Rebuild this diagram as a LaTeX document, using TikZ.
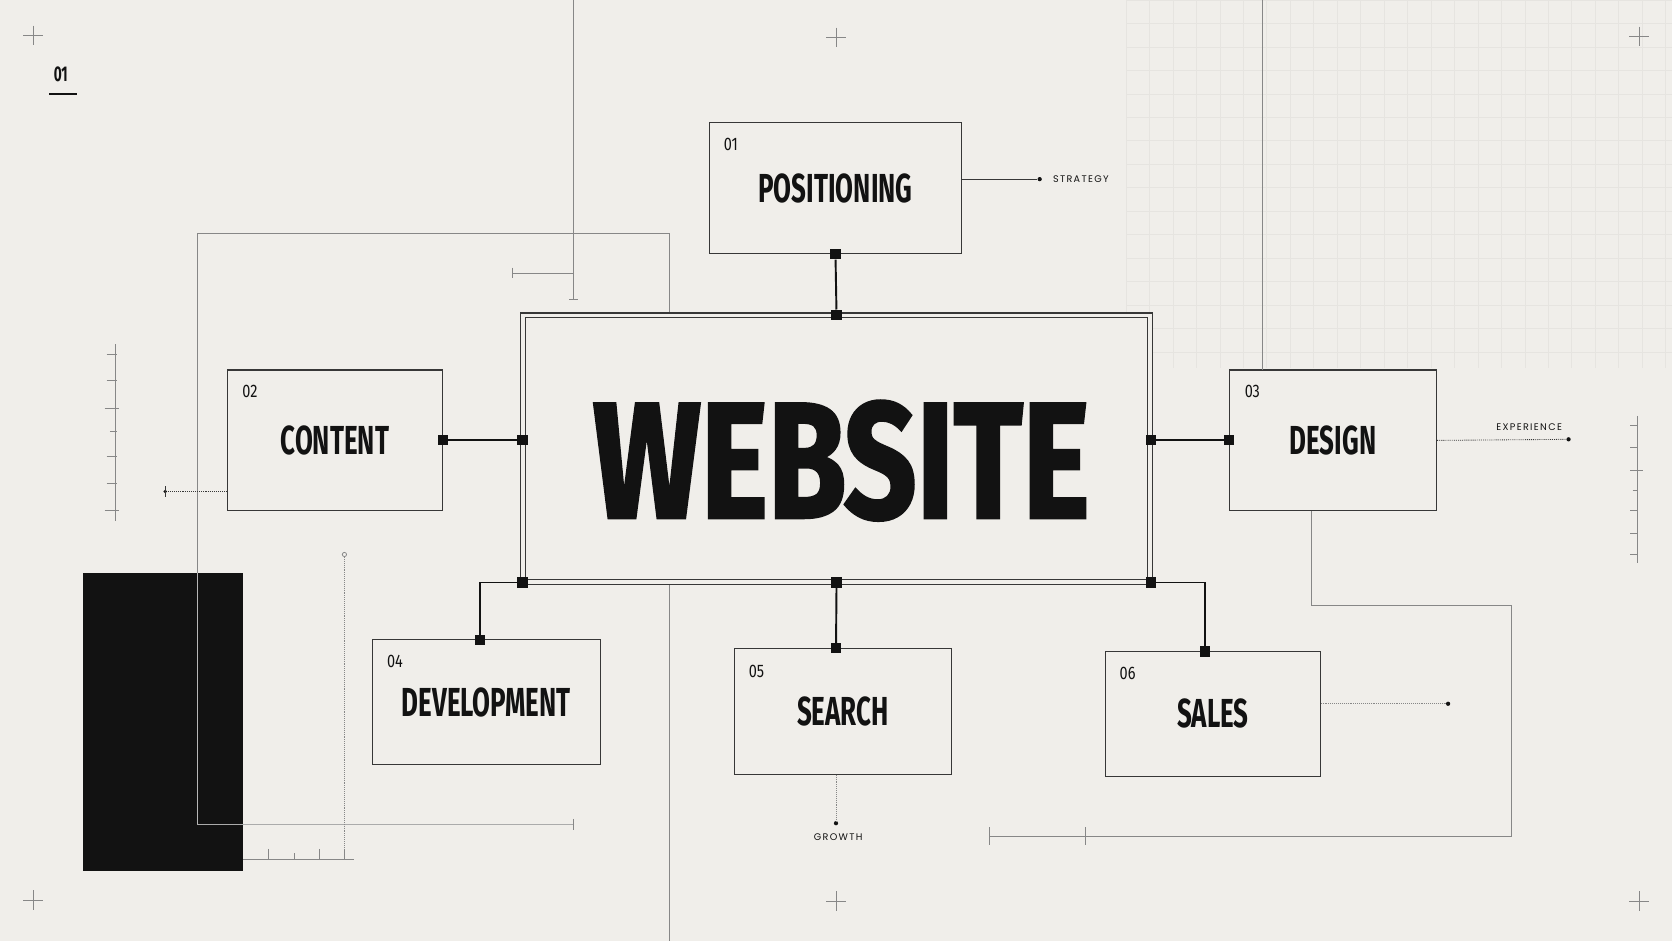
\documentclass[tikz,border=0pt]{standalone}
\usepackage{fontspec}
\setmainfont{Fira Sans}
\newfontfamily\TitleFont[FakeStretch=0.64]{Fira Sans}
\newfontfamily\HeroFont[FakeStretch=0.77,FakeBold=1.6]{Fira Sans}
\newfontfamily\NumFont[FakeStretch=0.8]{Fira Sans}
\newfontfamily\TagFont[LetterSpace=14]{Poppins}
\definecolor{paper}{RGB}{240,238,234}
\definecolor{ink}{RGB}{18,18,18}
\definecolor{edge}{RGB}{55,55,55}
\definecolor{rule}{RGB}{135,135,135}
\definecolor{gridc}{RGB}{230,228,224}
\newcommand{\BoxTitle}[1]{{\TitleFont\bfseries\fontsize{38}{38}\selectfont #1}}
\newcommand{\BoxNum}[1]{{\NumFont\fontsize{17}{17}\selectfont #1}}
\newcommand{\Tag}[1]{{\TagFont\fontsize{9}{9}\selectfont #1}}

\begin{document}
\begin{tikzpicture}[x=1pt,y=-1pt,
  box/.style={draw=edge,line width=1.1pt,fill=paper,inner sep=0pt,text=ink},
  joint/.style={fill=ink,minimum size=9.5pt,inner sep=0pt},
  link/.style={ink,line width=1.8pt},
  guide/.style={rule,line width=0.8pt},
  lead/.style={edge,line width=0.8pt,densely dotted},
  knob/.style={circle,fill=ink,minimum size=4pt,inner sep=0pt},
  crossmark/.style={rule,line width=0.8pt}]
\useasboundingbox (0,0) rectangle (1568,882);
\fill[paper] (0,0) rectangle (1568,882);
\begin{scope}[y=1pt]
\draw[gridc,line width=0.6pt,step=22] (1056,-345) grid (1568,0);
\end{scope}

\draw[crossmark] (22,33) -- (40,33) (31,24) -- (31,42);
\draw[crossmark] (775,35) -- (793,35) (784,26) -- (784,44);
\draw[crossmark] (1528,34) -- (1546,34) (1537,25) -- (1537,43);
\draw[crossmark] (22,844) -- (40,844) (31,835) -- (31,853);
\draw[crossmark] (775,845) -- (793,845) (784,836) -- (784,854);
\draw[crossmark] (1528,845) -- (1546,845) (1537,836) -- (1537,854);

\node[text=ink] (page) at (57,70) {\TitleFont\bfseries\fontsize{20}{20}\selectfont 01};
\draw[ink,line width=1.4pt] (46,88) -- (72,88);

\fill[ink] (78,537) rectangle (228,817);

\coordinate (g-top) at (538,0);
\coordinate (g-end) at (538,281);
\coordinate (g-arm) at (481,256);
\draw[guide] (g-top) -- (g-end);
\draw[guide] (g-arm) -- (g-arm -| g-end);
\draw[guide] (481,251) -- (481,261) (534,281) -- (542,281);

\coordinate (f-low) at (185,773);
\coordinate (f-nw) at (185,219);
\coordinate (f-ne) at (628,219);
\coordinate (f-foot) at (628,882);
\coordinate (f-tip) at (538,773);
\draw[guide] (f-low) -- (f-nw) -- (f-ne) -- (f-foot);
\draw[guide,rule!70!white] (f-low) -- (f-tip);
\draw[guide,rule!60!white] (185,537) -- (185,773);
\draw[guide] (538,768) -- (538,778);

\draw[guide] (108,323) -- (108,489);
\draw[guide] (100,332) -- (110,332) (100,357) -- (110,357) (98,383) -- (112,383) (103,405) -- (110,405) (100,428) -- (110,428) (100,453) -- (110,453) (98,479) -- (112,479);
\draw[guide] (1536,390) -- (1536,528);
\draw[guide] (1529,399) -- (1536,399) (1529,420) -- (1536,420) (1529,441) -- (1541,441) (1531,460) -- (1536,460) (1529,479) -- (1536,479) (1529,500) -- (1536,500) (1529,520) -- (1536,520);
\draw[guide] (228,806) -- (332,806);
\draw[guide] (252,796) -- (252,806) (276,800) -- (276,806) (300,796) -- (300,806) (323,796) -- (323,806);
\node[circle,draw=rule,line width=0.7pt,minimum size=4pt,inner sep=0pt] (v-top) at (323,520) {};
\draw[lead,rule] (v-top) -- (323,806);

\node[box,minimum width=588pt,minimum height=250pt,double=paper,double distance=3.4pt] (web) at (784.5,420.75) {};
\node[text=ink] (web-title) at (789,432) {\HeroFont\bfseries\fontsize{155}{155}\selectfont WEBSITE};

\node[box,minimum width=237pt,minimum height=123pt] (pos) at (783.5,176.5) {\BoxTitle{POSITIONING}};
\node[box,minimum width=202pt,minimum height=132pt] (con) at (314,413) {\BoxTitle{CONTENT}};
\node[box,minimum width=194pt,minimum height=132pt] (des) at (1250,413) {\BoxTitle{DESIGN}};
\node[box,minimum width=214pt,minimum height=117pt] (dev) at (456,658.5) {\BoxTitle{DEVELOPMENT}};
\node[box,minimum width=203pt,minimum height=118pt] (sea) at (790.5,667) {\BoxTitle{SEARCH}};
\node[box,minimum width=201pt,minimum height=117pt] (sal) at (1137.5,669.5) {\BoxTitle{SALES}};

\node[text=ink] (pos-n) at ([shift={(21,21)}]pos.north west) {\BoxNum{01}};
\node[text=ink] (con-n) at ([shift={(22,21)}]con.north west) {\BoxNum{02}};
\node[text=ink] (des-n) at ([shift={(22,21)}]des.north west) {\BoxNum{03}};
\node[text=ink] (dev-n) at ([shift={(22,21)}]dev.north west) {\BoxNum{04}};
\node[text=ink] (sea-n) at ([shift={(21,22)}]sea.north west) {\BoxNum{05}};
\node[text=ink] (sal-n) at ([shift={(21,21)}]sal.north west) {\BoxNum{06}};

\draw[guide] (1184,0) -- (1184,347);
\coordinate (d-drop) at (1230,479);
\coordinate (d-bend) at (1417,568);
\coordinate (d-foot) at (1417,784);
\coordinate (d-end) at (928,784);
\draw[guide] (d-drop) |- (d-bend) -- (d-foot) -- (d-end);
\draw[guide] (928,776) -- (928,792) (1018,776) -- (1018,792);

\node[joint] (pos-p) at (pos.south) {};
\node[joint] (web-n) at (web.north) {};
\node[joint] (con-p) at (con.east) {};
\node[joint] (web-w) at (web.west |- con.east) {};
\node[joint] (des-p) at (des.west) {};
\node[joint] (web-e) at (web.east |- des.west) {};
\node[joint] (dev-p) at (450,600) {};
\node[joint] (web-sw) at (web.south west) {};
\node[joint] (sea-p) at (784,608) {};
\node[joint] (web-s) at (web.south) {};
\node[joint] (sal-p) at (1130,611) {};
\node[joint] (web-se) at (web.south east) {};

\draw[link] (pos-p) -- (web-n);
\draw[link] (con-p) -- (web-w);
\draw[link] (des-p) -- (web-e);
\draw[link] (dev-p) |- (web-sw);
\draw[link] (sea-p) -- (web-s);
\draw[link] (sal-p) |- (web-se);

\node[knob] (strat-d) at (975,168) {};
\draw[edge,line width=0.8pt] (pos.east |- strat-d) -- (strat-d);
\node[anchor=west,text=ink] (strat) at (984,168) {\Tag{STRATEGY}};

\node[knob] (exp-d) at (1471,412) {};
\draw[lead] (des.east) -- (exp-d);
\node[text=ink] (exp) at (1434,401) {\Tag{EXPERIENCE}};

\node[knob] (sal-d) at (1358,660) {};
\draw[lead,rule] (sal.east |- sal-d) -- (sal-d);

\node[knob] (gro-d) at (784,772) {};
\draw[lead,rule] (gro-d |- sea.south) -- (gro-d);
\node[text=ink] (gro) at (786,785) {\Tag{GROWTH}};

\node[knob,minimum size=3.5pt] (con-d) at (155,461) {};
\draw[lead] (con.west |- con-d) -- (con-d);
\draw[edge,line width=0.6pt] (155,456) -- (155,466);
\end{tikzpicture}
\end{document}
